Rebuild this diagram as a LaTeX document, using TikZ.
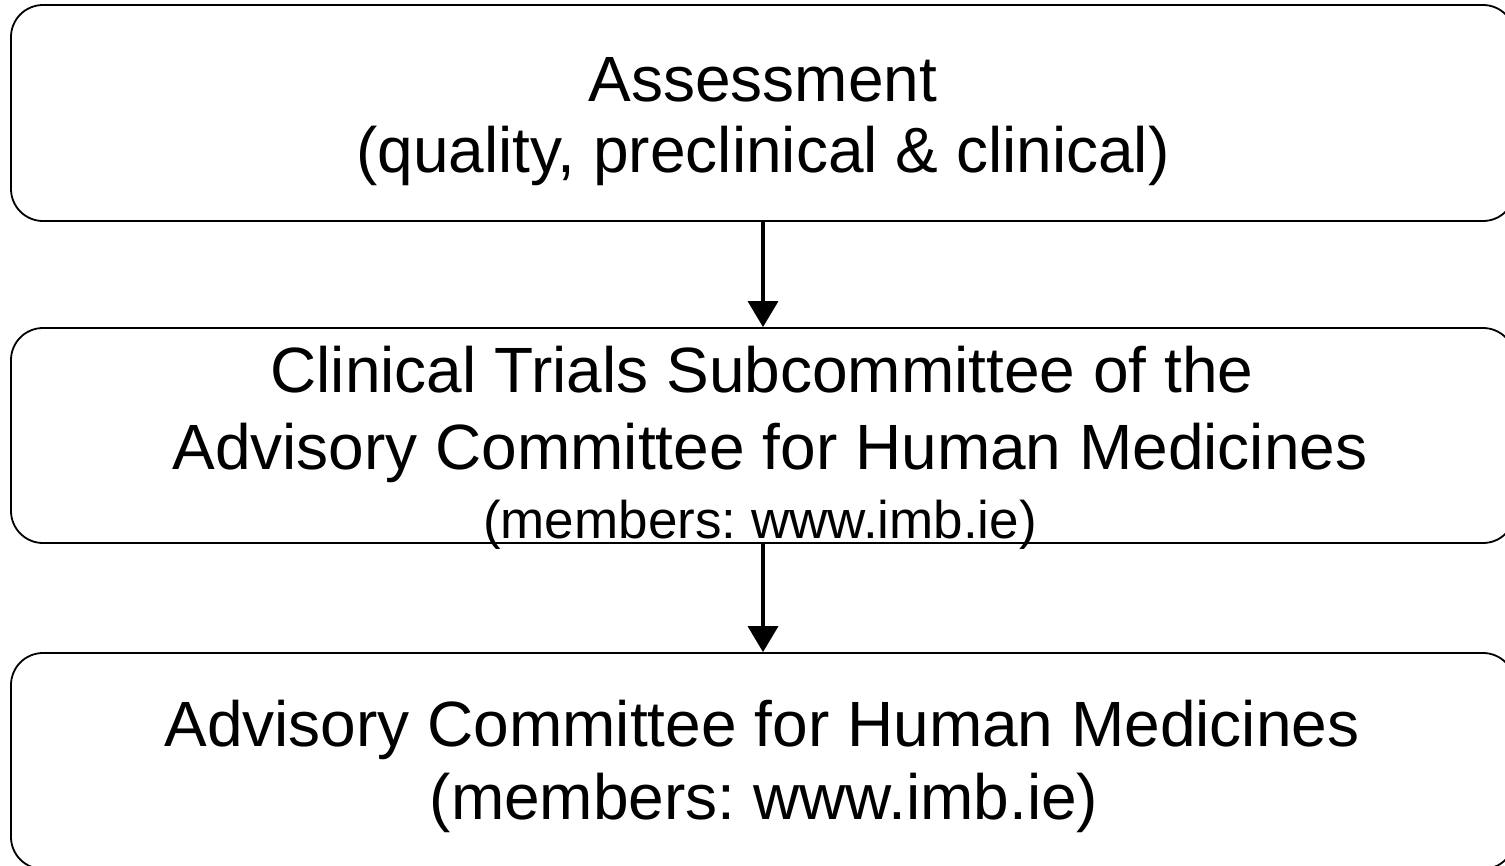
\documentclass[tikz,border=0pt]{standalone}
\usepackage{fontspec}
\setmainfont{Liberation Sans}
\frenchspacing
\usetikzlibrary{arrows.meta}

\tikzset{
  panel/.style={draw, line width=1.8pt, rounded corners=32pt, minimum width=1504pt, inner sep=0pt},
  big/.style={anchor=base, inner sep=0pt, font=\fontsize{64}{70}\selectfont},
  small/.style={anchor=base, inner sep=0pt, font=\fontsize{53}{58}\selectfont},
  flow/.style={-{Triangle[width=30pt,length=26pt]}, line width=3.6pt}
}

\begin{document}
\begin{tikzpicture}[x=1pt,y=-1pt]
\useasboundingbox (0,0) rectangle (1505,865);

% the three stages
\node[panel, minimum height=216pt] (assess) at (763,113) {};
\node[panel, minimum height=215pt] (subcom) at (763,435.5) {};
\node[panel, minimum height=216pt] (acm) at (763,761) {};

% text, one line per node
\node[big] (assess1) at (763,101) {Assessment};
\node[big] (assess2) at (763,172) {(quality, preclinical \& clinical)};
\node[big] (subcom1) at (762,392) {Clinical Trials Subcommittee of the};
\node[big] (subcom2) at (770,469) {Advisory Committee for Human Medicines};
\node[small] (subcom3) at (760,538) {(members: www.imb.ie)};
\node[big] (acm1) at (762,746) {Advisory Committee for Human Medicines};
\node[big] (acm2) at (764,819) {(members: www.imb.ie)};

% arrows between stages
\draw[flow] (assess.south) -- (subcom.north);
\draw[flow] (subcom.south) -- (acm.north);
\end{tikzpicture}
\end{document}
